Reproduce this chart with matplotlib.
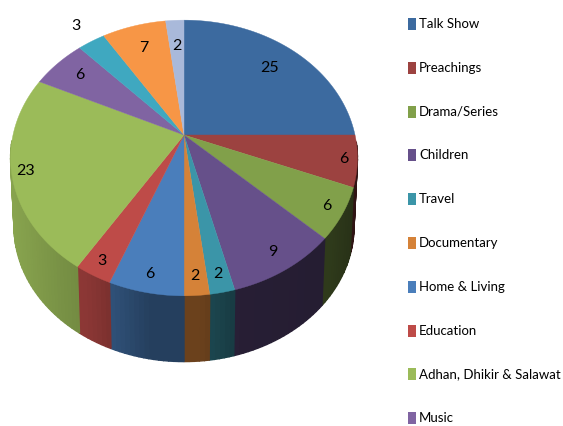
import numpy as np
import matplotlib
matplotlib.use('Agg')
import matplotlib.pyplot as plt
from matplotlib.patches import Rectangle

plt.rcParams['font.family'] = ['Lato', 'DejaVu Sans']

# values clockwise from 12 o'clock
values = [25, 6, 6, 9, 2, 2, 6, 3, 23, 6, 3, 7, 2]
legend_names = ['Talk Show', 'Preachings', 'Drama/Series', 'Children', 'Travel',
                'Documentary', 'Home & Living', 'Education',
                'Adhan, Dhikir & Salawat', 'Music']
top_colors = ['#3c6a9f', '#9c4240', '#81a04a', '#66508a', '#3b95a8', '#d58238',
              '#4a7ebb', '#be4b48', '#9bbb59', '#8064a2', '#3fa8c0', '#f79646',
              '#a9b9da']
legend_colors = ['#3c6a9f', '#9c4240', '#81a04a', '#66508a', '#3b95a8', '#d58238',
                 '#4a7ebb', '#be4b48', '#9bbb59', '#8064a2']
# how far out each number sits, as a share of the radius
label_r = [0.79, 0.92, 0.90, 0.87, 0.885, 0.88, 0.88, 0.90, 0.92, 0.83, 1.17, 0.80, 0.78]

# pie geometry in pixels, with a perspective tilt
cx, cy = 184, 135
rx, ry = 171, 134
tilt = 0.1667
depth = 69
shrink = 0.98


def project(a):
    # a is the angle clockwise from the top
    u, v = np.sin(a), np.cos(a)
    d = 1 + tilt * v
    return rx * u / d, ry * v / d


def shade(x):
    # side wall gets darker going right
    pts = [10, 40, 90, 150, 200, 240, 330, 357]
    fac = [0.88, 0.82, 0.72, 0.50, 0.50, 0.38, 0.36, 0.30]
    return np.interp(x, pts, fac)


fig = plt.figure(figsize=(5.63, 4.26), dpi=100)
ax = fig.add_axes([0, 0, 1, 1])
ax.set_xlim(0, 563)
ax.set_ylim(426, 0)
ax.axis('off')

edges = np.cumsum([0] + values) / sum(values) * 2 * np.pi

# side wall first, only the front part shows
for i in range(len(values)):
    steps = max(2, int((edges[i + 1] - edges[i]) * 40))
    t = np.linspace(edges[i], edges[i + 1], steps + 1)
    px, py = project(t)
    base = np.array(matplotlib.colors.to_rgb(top_colors[i]))
    for j in range(steps):
        if np.cos((t[j] + t[j + 1]) / 2) > -0.05:
            continue
        xs = [cx + px[j], cx + px[j + 1], cx + shrink * px[j + 1], cx + shrink * px[j]]
        ys = [cy - py[j], cy - py[j + 1], cy + depth - shrink * py[j + 1], cy + depth - shrink * py[j]]
        c = base * shade(np.mean(xs))
        ax.fill(xs, ys, color=c, lw=1.0, zorder=2)

# top face
for i in range(len(values)):
    t = np.linspace(edges[i], edges[i + 1], 60)
    px, py = project(t)
    ax.fill(np.r_[cx, cx + px], np.r_[cy, cy - py], color=top_colors[i], lw=0.3, zorder=3)

# numbers
for i, val in enumerate(values):
    mx, my = project((edges[i] + edges[i + 1]) / 2)
    ax.text(cx + label_r[i] * mx, cy - label_r[i] * my, str(val), fontsize=11.5,
            ha='center', va='center', color='black', zorder=4)

# legend squares and names
for i, name in enumerate(legend_names):
    y = 24 + 43.8 * i
    ax.add_patch(Rectangle((408, y - 6), 8, 12, color=legend_colors[i], lw=0, clip_on=False))
    ax.text(419, y, name, fontsize=9.5, ha='left', va='center', color='black')

fig.savefig('out.png', dpi=100)
